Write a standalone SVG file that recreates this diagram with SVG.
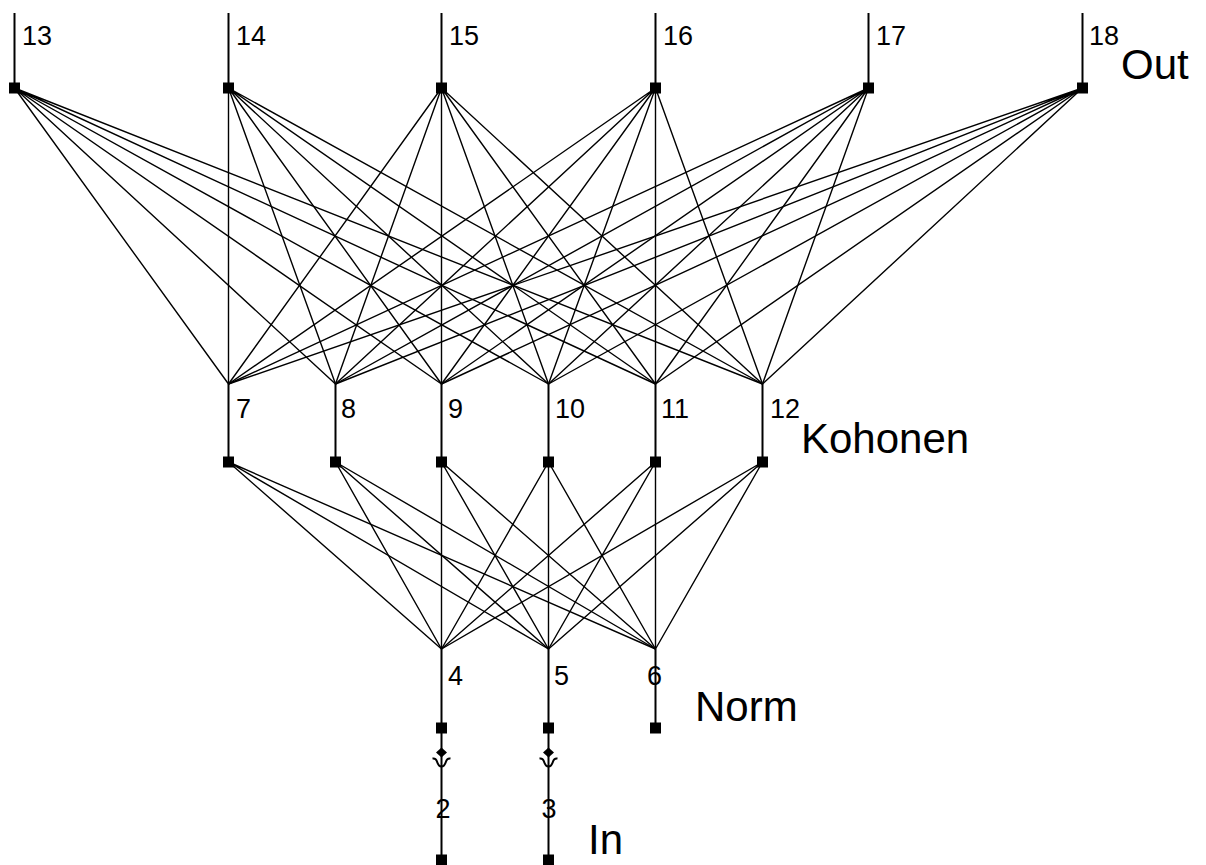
<svg xmlns="http://www.w3.org/2000/svg" width="1206" height="865" viewBox="0 0 1206 865">
<style>
.c{stroke:#000;stroke-width:1.4;fill:none}
.s{stroke:#000;stroke-width:2;fill:none}
.a{stroke:#000;stroke-width:2;fill:none}
.sq{fill:#000}
.lb{font-family:"Liberation Sans",Arial,sans-serif;font-size:27px;fill:#000}
.big{font-family:"Liberation Sans",Arial,sans-serif;font-size:42px;fill:#000}
</style>
<defs>
<rect id="sqr" x="-5.5" y="-5.5" width="11" height="11" class="sq"/>
<g id="sym">
<path d="M0,747.5L5.5,752.5L0,757.5L-5.5,752.5Z" fill="#000"/>
<path class="a" d="M-9,758.5q3.5,-0.5 4.5,3q1.5,5 4.5,5q3,0 4.5,-5q1,-3.5 4.5,-3"/>
</g>
</defs>
<rect width="1206" height="865" fill="#fff"/>
<g id="connectors">
<path class="c" d="M14.5,88L228.5,384M14.5,88L335.5,384M14.5,88L441.5,384M14.5,88L548.5,384M14.5,88L655.5,384M14.5,88L762.5,384"/>
<path class="c" d="M228.5,88L228.5,384M228.5,88L335.5,384M228.5,88L441.5,384M228.5,88L548.5,384M228.5,88L655.5,384M228.5,88L762.5,384"/>
<path class="c" d="M441.5,88L228.5,384M441.5,88L335.5,384M441.5,88L441.5,384M441.5,88L548.5,384M441.5,88L655.5,384M441.5,88L762.5,384"/>
<path class="c" d="M655.5,88L228.5,384M655.5,88L335.5,384M655.5,88L441.5,384M655.5,88L548.5,384M655.5,88L655.5,384M655.5,88L762.5,384"/>
<path class="c" d="M868.5,88L228.5,384M868.5,88L335.5,384M868.5,88L441.5,384M868.5,88L548.5,384M868.5,88L655.5,384M868.5,88L762.5,384"/>
<path class="c" d="M1082.5,88L228.5,384M1082.5,88L335.5,384M1082.5,88L441.5,384M1082.5,88L548.5,384M1082.5,88L655.5,384M1082.5,88L762.5,384"/>
<path class="c" d="M228.5,462L441.5,649M228.5,462L548.5,649M228.5,462L655.5,649"/>
<path class="c" d="M335.5,462L441.5,649M335.5,462L548.5,649M335.5,462L655.5,649"/>
<path class="c" d="M441.5,462L441.5,649M441.5,462L548.5,649M441.5,462L655.5,649"/>
<path class="c" d="M548.5,462L441.5,649M548.5,462L548.5,649M548.5,462L655.5,649"/>
<path class="c" d="M655.5,462L441.5,649M655.5,462L548.5,649M655.5,462L655.5,649"/>
<path class="c" d="M762.5,462L441.5,649M762.5,462L548.5,649M762.5,462L655.5,649"/>
<path class="s" d="M441.5,860V728M548.5,860V728"/>
<use href="#sym" x="441.5" y="0"/>
<use href="#sym" x="548.5" y="0"/>
</g>
<g id="node13"><path class="s" d="M14.5,13V88"/><use href="#sqr" x="14.5" y="88"/><text class="lb" x="22" y="45">13</text></g>
<g id="node14"><path class="s" d="M228.5,13V88"/><use href="#sqr" x="228.5" y="88"/><text class="lb" x="236" y="45">14</text></g>
<g id="node15"><path class="s" d="M441.5,13V88"/><use href="#sqr" x="441.5" y="88"/><text class="lb" x="449" y="45">15</text></g>
<g id="node16"><path class="s" d="M655.5,13V88"/><use href="#sqr" x="655.5" y="88"/><text class="lb" x="663" y="45">16</text></g>
<g id="node17"><path class="s" d="M868.5,13V88"/><use href="#sqr" x="868.5" y="88"/><text class="lb" x="876" y="45">17</text></g>
<g id="node18"><path class="s" d="M1082.5,13V88"/><use href="#sqr" x="1082.5" y="88"/><text class="lb" x="1089" y="45">18</text></g>
<text id="label-out" class="big" x="1121" y="79">Out</text>
<g id="node7"><path class="s" d="M228.5,384V462"/><use href="#sqr" x="228.5" y="462"/><text class="lb" x="236" y="418">7</text></g>
<g id="node8"><path class="s" d="M335.5,384V462"/><use href="#sqr" x="335.5" y="462"/><text class="lb" x="341" y="418">8</text></g>
<g id="node9"><path class="s" d="M441.5,384V462"/><use href="#sqr" x="441.5" y="462"/><text class="lb" x="448" y="418">9</text></g>
<g id="node10"><path class="s" d="M548.5,384V462"/><use href="#sqr" x="548.5" y="462"/><text class="lb" x="555" y="418">10</text></g>
<g id="node11"><path class="s" d="M655.5,384V462"/><use href="#sqr" x="655.5" y="462"/><text class="lb" x="661" y="418">11</text></g>
<g id="node12"><path class="s" d="M762.5,384V462"/><use href="#sqr" x="762.5" y="462"/><text class="lb" x="770" y="418">12</text></g>
<text id="label-kohonen" class="big" x="801" y="453">Kohonen</text>
<g id="node4"><path class="s" d="M441.5,649V728"/><use href="#sqr" x="441.5" y="728"/><text class="lb" x="448" y="685">4</text></g>
<g id="node5"><path class="s" d="M548.5,649V728"/><use href="#sqr" x="548.5" y="728"/><text class="lb" x="554" y="685">5</text></g>
<g id="node6"><path class="s" d="M655.5,649V728"/><use href="#sqr" x="655.5" y="728"/><text class="lb" x="647" y="685">6</text></g>
<text id="label-norm" class="big" x="695" y="721">Norm</text>
<g id="node2"><use href="#sqr" x="441.5" y="860"/><text class="lb" x="443" y="818" text-anchor="middle">2</text></g>
<g id="node3"><use href="#sqr" x="548.5" y="860"/><text class="lb" x="549" y="818" text-anchor="middle">3</text></g>
<text id="label-in" class="big" x="588" y="854">In</text>
</svg>
